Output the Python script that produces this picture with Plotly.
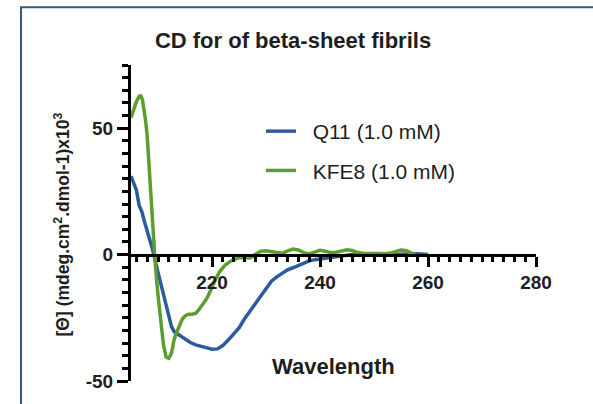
import plotly.graph_objects as go

# ---- data ----
q11_wl = [205, 205.5, 206, 206.5, 207, 207.5, 208, 209, 210, 211, 212, 212.5, 213, 214, 215,
          216, 217, 218, 219, 220, 221, 222, 223, 224, 225, 226, 227, 228, 229, 230, 231, 232,
          233, 234, 235, 236, 237, 238, 239, 240, 241, 242, 243, 244, 245, 246, 247, 248, 250,
          252, 254, 256, 258, 260]
q11_val = [31, 28.5, 25.5, 19.5, 17, 13, 9.5, 2, -7, -16, -24.5, -28.5, -30.5, -32, -33.5,
           -34.8, -35.7, -36.3, -37, -37.4, -37.3, -36, -33.8, -31.5, -29, -25.5, -22.5, -19.5,
           -16.5, -13, -10.5, -8.8, -7.2, -6, -5.2, -4.2, -3.3, -2.5, -2, -1.7, -1.3, -1, -0.7,
           -0.5, -0.2, 0, 0.3, 0.3, 0.1, 0.2, 0, 0.2, 0.3, 0]

kfe8_wl = [205, 205.5, 206, 206.5, 206.8, 207.1, 207.4, 207.7, 208, 208.5, 209, 209.5, 210,
           210.5, 211, 211.5, 212, 212.5, 213, 213.5, 214, 214.5, 215, 215.5, 216.5, 217,
           217.5, 218, 219, 220, 220.6, 221.5, 222.4, 223.5, 224.6, 225, 226, 227, 228, 229,
           230, 231, 232, 233, 234, 235, 236, 237, 238, 239, 240, 241, 242, 243, 244, 245, 246,
           247, 248, 249, 250, 251, 252, 253, 254, 255, 256, 257, 258]
kfe8_val = [54.2, 57.5, 60.5, 62.6, 62.8, 61.5, 58, 53, 47, 30, 12, -4, -16, -27, -35.5, -40.5,
            -41, -39, -33.5, -30.5, -27.5, -25.5, -24.3, -23.7, -23.5, -23.2, -22, -20.5,
            -17.5, -13, -10, -6.5, -4.2, -2.5, -1.4, -1.2, -1.2, -1.3, 0, 1.3, 1.5, 1.2, 0.6,
            0.5, 1.5, 2.2, 1.8, 0.8, 0.3, 0.9, 1.7, 1.3, 0.8, 0.9, 1.3, 1.9, 1.6, 0.8, 0.5, 0.3,
            0.4, 0.4, 0.3, 0.6, 1.3, 1.8, 1.5, 0.5, -0.4]

series_names = ["Q11 (1.0 mM)", "KFE8 (1.0 mM)"]
x_major = [220, 240, 260, 280]
y_major = [-50, 0, 50]
y_major_text = ["-50", "0", "50"]

BLUE = "#2c5aa0"
GREEN = "#5b9e2f"
INK = "#1e1e1e"
FONT = "Liberation Sans"

W, H = 593, 404
L, R, T, B = 131, 57, 65, 16
PW, PH = W - L - R, H - T - B

fig = go.Figure()
fig.add_trace(go.Scatter(x=q11_wl, y=q11_val, mode="lines", name="\u00a0\u00a0" + series_names[0],
                         line=dict(color=BLUE, width=3.5), legendgroup="a"))
fig.add_trace(go.Scatter(x=kfe8_wl, y=kfe8_val, mode="lines", name="\u00a0\u00a0" + series_names[1],
                         line=dict(color=GREEN, width=3.5), legendgroup="b"))

def px_x(p):
    return (p - L) / PW

def px_y(p):
    return (H - B - p) / PH

fig.update_layout(
    width=W, height=H,
    margin=dict(l=L, r=R, t=T, b=B, pad=0),
    paper_bgcolor="white", plot_bgcolor="white",
    font=dict(family=FONT, color=INK),
    showlegend=True,
    legend=dict(x=px_x(261), y=px_y(112), xanchor="left", yanchor="top",
                font=dict(size=21, family=FONT, color=INK),
                bgcolor="rgba(0,0,0,0)", tracegroupgap=9, traceorder="grouped",
                itemwidth=30),
    title=dict(text="CD for of beta-sheet fibrils", x=293 / W, xref="container",
               xanchor="center", y=1 - 40.5 / H, yref="container", yanchor="middle",
               font=dict(size=22, family=FONT, color=INK, weight="bold")),
    xaxis=dict(range=[205, 280], anchor="free", position=0.4, showgrid=False, zeroline=False,
               showline=True, linecolor="black", linewidth=3,
               tickmode="array", tickvals=x_major, ticks="outside", ticklen=10, tickwidth=3,
               tickcolor="black",
               tickfont=dict(size=19, family=FONT, color=INK, weight="bold"),
               minor=dict(dtick=2, tick0=0, ticks="outside", ticklen=5, tickwidth=2.5,
                          tickcolor="black", showgrid=False)),
    yaxis=dict(range=[-50, 75], showgrid=False, zeroline=False,
               showline=True, linecolor="black", linewidth=3,
               tickmode="array", tickvals=y_major, ticktext=y_major_text,
               ticks="outside", ticklen=11, tickwidth=3, tickcolor="black",
               tickfont=dict(size=19, family=FONT, color=INK, weight="bold"),
               minor=dict(dtick=5, tick0=0, ticks="outside", ticklen=6, tickwidth=2.5,
                          tickcolor="black", showgrid=False)),
    annotations=[
        dict(text="[\u0398] (mdeg.cm<sup>2</sup>.dmol-1)x10<sup>3</sup>", xref="paper", yref="paper",
             x=px_x(62), y=px_y(228), xanchor="center", yanchor="middle", textangle=-90,
             showarrow=False, font=dict(size=17.5, family=FONT, color=INK, weight="bold")),
        dict(text="Wavelength", xref="paper", yref="paper", x=px_x(333.5), y=px_y(373),
             xanchor="center", yanchor="middle", showarrow=False,
             font=dict(size=22, family=FONT, color=INK, weight="bold")),
    ],
    shapes=[
        dict(type="rect", xref="paper", yref="paper", x0=px_x(21), x1=px_x(700),
             y0=px_y(500), y1=px_y(6), line=dict(color="#2e5d8c", width=2),
             fillcolor="rgba(0,0,0,0)", layer="below"),
    ],
)

fig.write_html("out.html")
